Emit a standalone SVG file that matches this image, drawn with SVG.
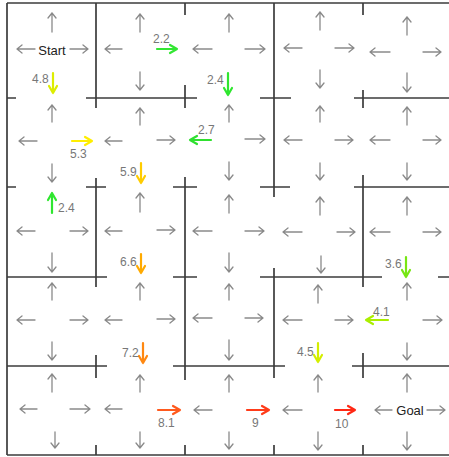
<svg xmlns="http://www.w3.org/2000/svg" width="449" height="457" viewBox="0 0 449 457">
<style>
.g{fill:none;stroke:#8a8a8a;stroke-width:1.3;stroke-linecap:round;stroke-linejoin:round}
.c{fill:none;stroke-width:2.2;stroke-linecap:round;stroke-linejoin:round}
.w{fill:none;stroke:#3c3c3c;stroke-width:1.7}
.v{font-family:"Liberation Sans",Arial,sans-serif;font-size:12px;fill:#777}
.t{font-family:"Liberation Sans",Arial,sans-serif;font-size:13px;fill:#222;text-anchor:middle}
</style>
<rect width="449" height="457" fill="#fff"/>
<g id="walls">
<path class="w" d="M7 3H449M7 3V455M7 455H449
M96 3V108M96 178V287M96 355V378M96 445V455
M185 3V15M185 85V108M185 177V380M185 445V455
M274 3V197M274 268V378M274 445V455
M363 3V15M363 90V108M363 175V287M363 353V378M363 445V455
M7 98H16M86 98H197M260 98H291M354 98H449
M7 187H16M86 187H106M173 187H197M260 187H290M354 187H449
M7 277H107M173 277H197M260 277H382M438 277H449
M7 366H107M173 366H285M352 366H449"/>
</g>
<g id="cell-1-1">
<path class="g" d="M52 32V13M48 18L52 13L56 18M35 49H17M22 45L17 49L22 53M70 49H88M83 45L88 49L83 53"/>
<text class="t" x="52" y="55">Start</text>
<path class="c" stroke="#dded00" d="M53 73V93M49 86L53 93L57 86"/>
<text class="v" x="32" y="83">4.8</text>
</g>
<g id="cell-1-2">
<path class="g" d="M140 32V14M136 19L140 14L144 19M122 49H105M110 45L105 49L110 53M140 72V90M136 85L140 90L144 85"/>
<path class="c" stroke="#33e633" d="M157 49H177M170 45L177 49L170 53"/>
<text class="v" x="153" y="43">2.2</text>
</g>
<g id="cell-1-3">
<path class="g" d="M229 32V14M225 19L229 14L233 19M212 49H193M198 45L193 49L198 53M245 49H265M260 45L265 49L260 53"/>
<path class="c" stroke="#2fe62f" d="M228 73V95M224 88L228 95L232 88"/>
<text class="v" x="207" y="84">2.4</text>
</g>
<g id="cell-1-4">
<path class="g" d="M320 30V12M316 17L320 12L324 17M302 48H284M289 44L284 48L289 52M335 48H354M349 44L354 48L349 52M320 70V88M316 83L320 88L324 83"/>
</g>
<g id="cell-1-5">
<path class="g" d="M407 35V17M403 22L407 17L411 22M390 52H370M375 48L370 52L375 56M423 52H441M436 48L441 52L436 56M407 73V92M403 87L407 92L411 87"/>
</g>
<g id="cell-2-1">
<path class="g" d="M52 122V105M48 110L52 105L56 110M37 141H19M24 137L19 141L24 145M52 164V182M48 177L52 182L56 177"/>
<path class="c" stroke="#ffee00" d="M72 141H92M85 137L92 141L85 145"/>
<text class="v" x="70" y="158">5.3</text>
</g>
<g id="cell-2-2">
<path class="g" d="M140 125V108M136 113L140 108L144 113M122 141H105M110 137L105 141L110 145M157 140H175M170 136L175 140L170 144"/>
<path class="c" stroke="#ffcc00" d="M141 163V183M137 176L141 183L145 176"/>
<text class="v" x="120" y="176">5.9</text>
</g>
<g id="cell-2-3">
<path class="g" d="M229 122V105M225 110L229 105L233 110M245 139H265M260 135L265 139L260 143M229 162V180M225 175L229 180L233 175"/>
<path class="c" stroke="#2fe02f" d="M211 140H190M197 136L190 140L197 144"/>
<text class="v" x="198" y="134">2.7</text>
</g>
<g id="cell-2-4">
<path class="g" d="M320 122V106M316 111L320 106L324 111M302 140H284M289 136L284 140L289 144M335 140H353M348 136L353 140L348 144M320 163V180M316 175L320 180L324 175"/>
</g>
<g id="cell-2-5">
<path class="g" d="M407 125V107M403 112L407 107L411 112M390 140H370M375 136L370 140L375 144M423 140H441M436 136L441 140L436 144M407 163V180M403 175L407 180L411 175"/>
</g>
<g id="cell-3-1">
<path class="g" d="M35 231H17M22 227L17 231L22 235M70 231H88M83 227L88 231L83 235M52 253V272M48 267L52 272L56 267"/>
<path class="c" stroke="#2fe62f" d="M52 213V193M48 200L52 193L56 200"/>
<text class="v" x="58" y="212">2.4</text>
</g>
<g id="cell-3-2">
<path class="g" d="M140 212V193M136 198L140 193L144 198M122 231H105M110 227L105 231L110 235M157 230H175M170 226L175 230L170 234"/>
<path class="c" stroke="#ffaa00" d="M141 254V273M137 266L141 273L145 266"/>
<text class="v" x="120" y="266">6.6</text>
</g>
<g id="cell-3-3">
<path class="g" d="M229 213V195M225 200L229 195L233 200M212 231H193M198 227L193 231L198 235M245 231H264M259 227L264 231L259 235M229 253V272M225 267L229 272L233 267"/>
</g>
<g id="cell-3-4">
<path class="g" d="M320 215V197M316 202L320 197L324 202M302 232H283M288 228L283 232L288 236M337 232H355M350 228L355 232L350 236M321 256V273M317 268L321 273L325 268"/>
</g>
<g id="cell-3-5">
<path class="g" d="M407 215V197M403 202L407 197L411 202M390 232H370M375 228L370 232L375 236M423 232H441M436 228L441 232L436 236"/>
<path class="c" stroke="#77e614" d="M406 257V277M402 270L406 277L410 270"/>
<text class="v" x="385" y="268">3.6</text>
</g>
<g id="cell-4-1">
<path class="g" d="M52 300V283M48 288L52 283L56 288M35 320H17M22 316L17 320L22 324M70 320H88M83 316L88 320L83 324M52 342V360M48 355L52 360L56 355"/>
</g>
<g id="cell-4-2">
<path class="g" d="M140 300V283M136 288L140 283L144 288M122 320H105M110 316L105 320L110 324M157 319H175M170 315L175 319L170 323"/>
<path class="c" stroke="#ff8811" d="M143 343V363M139 356L143 363L147 356"/>
<text class="v" x="122" y="357">7.2</text>
</g>
<g id="cell-4-3">
<path class="g" d="M229 300V284M225 289L229 284L233 289M212 318H193M198 314L193 318L198 322M245 318H263M258 314L263 318L258 322M229 340V360M225 355L229 360L233 355"/>
</g>
<g id="cell-4-4">
<path class="g" d="M318 303V285M314 290L318 285L322 290M302 320H283M288 316L283 320L288 324M335 320H353M348 316L353 320L348 324"/>
<path class="c" stroke="#d4ee00" d="M318 343V362M314 355L318 362L322 355"/>
<text class="v" x="297" y="356">4.5</text>
</g>
<g id="cell-4-5">
<path class="g" d="M407 300V283M403 288L407 283L411 288M423 320H442M437 316L442 320L437 324M407 343V360M403 355L407 360L411 355"/>
<path class="c" stroke="#aaee00" d="M388 320H366M373 316L366 320L373 324"/>
<text class="v" x="373" y="316">4.1</text>
</g>
<g id="cell-5-1">
<path class="g" d="M52 392V374M48 379L52 374L56 379M37 409H20M25 405L20 409L25 413M70 409H90M85 405L90 409L85 413M55 432V448M51 443L55 448L59 443"/>
</g>
<g id="cell-5-2">
<path class="g" d="M140 392V375M136 380L140 375L144 380M122 409H105M110 405L105 409L110 413M140 432V448M136 443L140 448L144 443"/>
<path class="c" stroke="#ff5a1e" d="M158 410H180M173 406L180 410L173 414"/>
<text class="v" x="158" y="427">8.1</text>
</g>
<g id="cell-5-3">
<path class="g" d="M229 392V375M225 380L229 375L233 380M212 410H194M199 406L194 410L199 414M229 432V449M225 444L229 449L233 444"/>
<path class="c" stroke="#ff3c1a" d="M247 410H269M262 406L269 410L262 414"/>
<text class="v" x="252" y="427">9</text>
</g>
<g id="cell-5-4">
<path class="g" d="M318 392V375M314 380L318 375L322 380M302 410H283M288 406L283 410L288 414M318 432V450M314 445L318 450L322 445"/>
<path class="c" stroke="#ff2814" d="M335 410H355M348 406L355 410L348 414"/>
<text class="v" x="335" y="428">10</text>
</g>
<g id="cell-5-5">
<path class="g" d="M407 392V374M403 379L407 374L411 379M392 410H375M380 406L375 410L380 414M427 410H445M440 406L445 410L440 414M407 432V450M403 445L407 450L411 445"/>
<text class="t" x="410" y="415">Goal</text>
</g>
</svg>
